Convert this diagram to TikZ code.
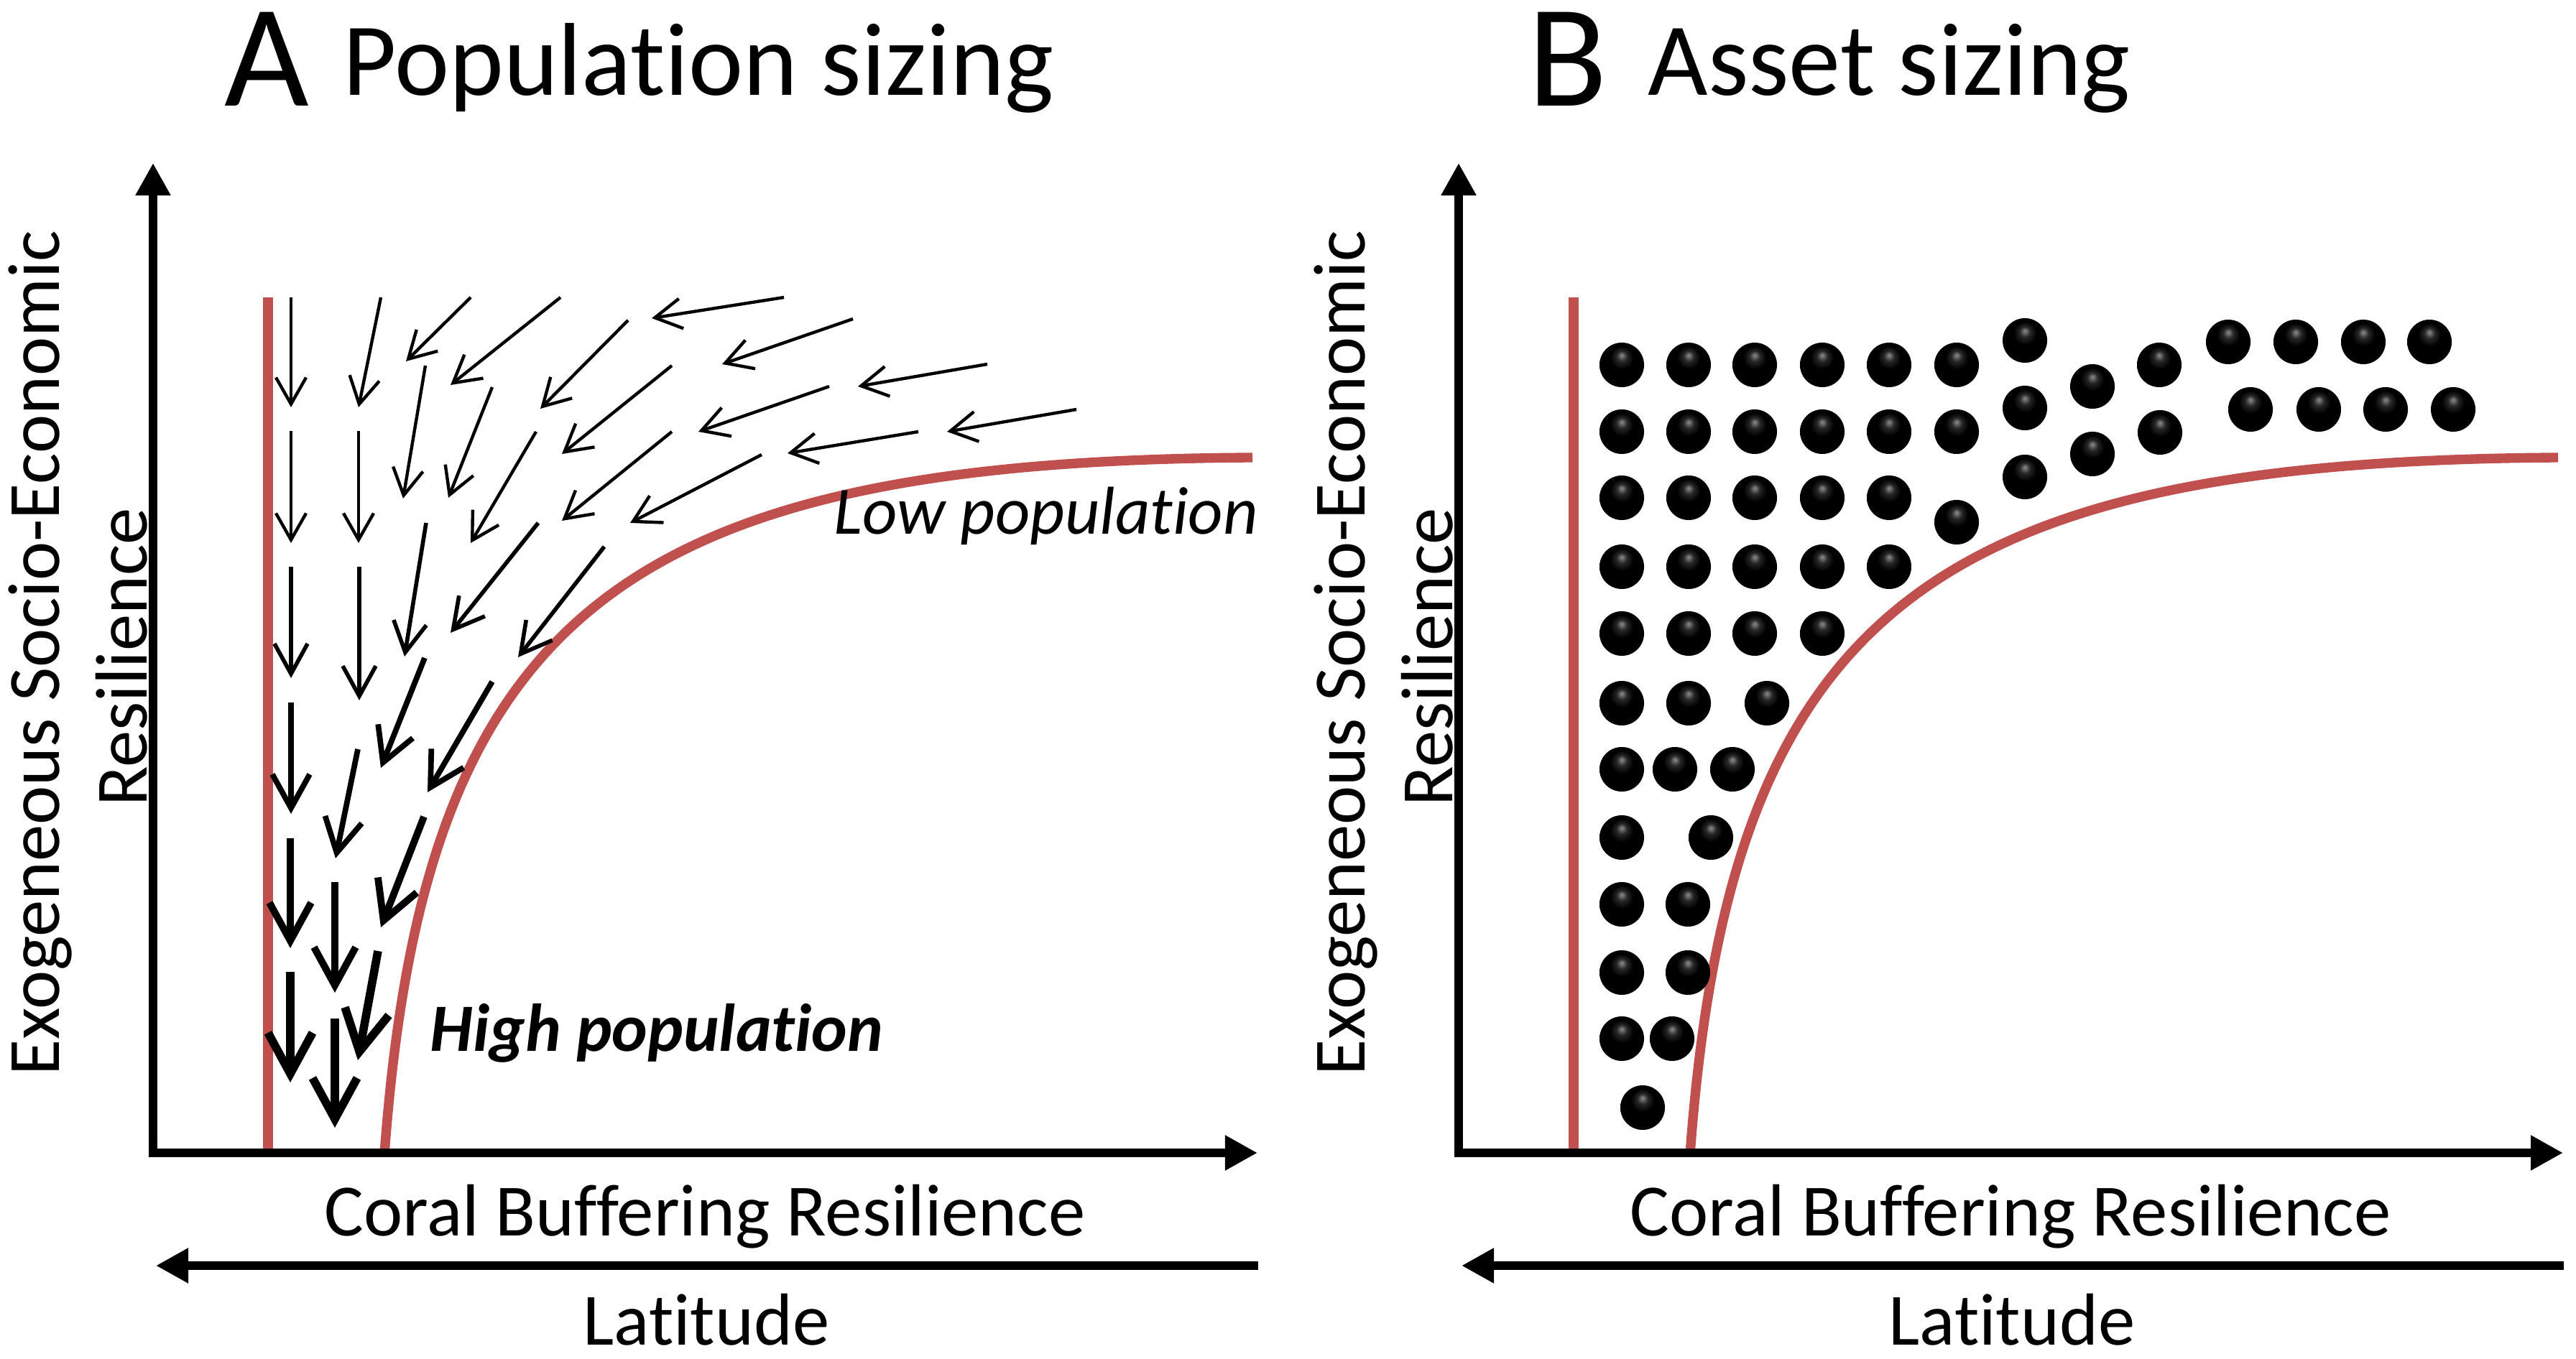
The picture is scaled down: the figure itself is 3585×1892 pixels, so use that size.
\documentclass[tikz,border=0pt]{standalone}
\usepackage{fontspec}
\setmainfont{Carlito}[Ligatures=NoCommon]
\usetikzlibrary{arrows.meta}
\definecolor{redc}{RGB}{192,80,77}
\pgfdeclareradialshading{dotball}{\pgfqpoint{0bp}{11bp}}{color(0bp)=(black!45); color(6bp)=(black!85); color(13bp)=(black); color(50bp)=(black)}
\tikzset{
  axisline/.style={line width=3.2pt, -{Triangle[length=0.45cm,width=0.46cm]}},
  redline/.style={line width=3.8pt, draw=redc},
  ara/.style={line width=1.25pt, -{Straight Barb[length=0.37cm,width=0.42cm]}},
  arb/.style={line width=1.6pt, -{Straight Barb[length=0.42cm,width=0.46cm]}},
  arc/.style={line width=2.2pt, -{Straight Barb[length=0.47cm,width=0.52cm]}},
  ard/.style={line width=2.8pt, -{Straight Barb[length=0.53cm,width=0.58cm]}},
  are/.style={line width=3.3pt, -{Straight Barb[length=0.57cm,width=0.62cm]}},
  lab/.style={inner sep=0pt, font=\fontsize{29.2}{32}\selectfont},
  bigletter/.style={inner sep=0pt, anchor=base west, font=\fontsize{57.8}{60}\selectfont},
  bigtitle/.style={inner sep=0pt, anchor=base west, font=\fontsize{41}{44}\selectfont},
  note/.style={inner sep=0pt, anchor=base west},
  ballshade/.style={shading=dotball}
}
\begin{document}
\begin{tikzpicture}[x=0.01cm,y=-0.01cm]
\useasboundingbox (0,0) rectangle (3585,1892);
% ---------- titles
\node[bigletter] (tA) at (312,148) {A};
\node[bigtitle] (tAp) at (477,133) {Population sizing};
\node[bigletter] (tB) at (2126,148) {B};
\node[bigtitle] (tBp) at (2293,133) {Asset sizing};
% ---------- panel frames (A and B)
\foreach \dx/\nm in {0/A,1817/B}{
  \begin{scope}[xshift=\dx*0.01cm]
    \draw[redline] (373,414) -- (373,1605);
    \draw[redline] (535,1607) .. controls (590,860) and (860,642) .. (1743,637);
    \draw[axisline] (213,1611) -- (213,227);
    \draw[axisline] (207,1605) -- (1750,1605);
    \draw[axisline] (1751,1762) -- (217,1762);
    \node[lab, anchor=base] (xl\nm) at (981,1720) {Coral Buffering Resilience};
    \node[lab, anchor=base] (lat\nm) at (983,1872) {Latitude};
    \node[lab, anchor=base, rotate=90] (ya\nm) at (82,909) {Exogeneous Socio-Economic};
    \node[lab, anchor=base, rotate=90] (yb\nm) at (204,915) {Resilience};
  \end{scope}
}
% ---------- panel A arrows
\draw[ara] (405,414) -- (405,567);
\draw[ara] (405,600) -- (405,756);
\draw[arb] (405,789) -- (405,944);
\draw[arc] (405,978) -- (405,1133);
\draw[ard] (404,1167) -- (404,1320);
\draw[are] (404,1353) -- (404,1507);
\draw[ara] (530,414) -- (499,567);
\draw[ara] (499,600) -- (499,756);
\draw[arb] (500,789) -- (500,975);
\draw[arc] (498,1043) -- (467,1195);
\draw[ard] (466,1228) -- (466,1382);
\draw[are] (466,1418) -- (466,1570);
\draw[ara] (655,414) -- (565,503);
\draw[ara] (592,509) -- (561,694);
\draw[arb] (593,728) -- (563,914);
\draw[arc] (591,916) -- (530,1069);
\draw[ard] (590,1137) -- (530,1291);
\draw[are] (526,1324) -- (498,1476);
\draw[ara] (780,414) -- (627,536);
\draw[ara] (685,539) -- (624,693);
\draw[ara] (746,601) -- (655,756);
\draw[arb] (749,728) -- (627,881);
\draw[arc] (685,949) -- (595,1103);
\draw[ara] (874,446) -- (752,569);
\draw[ara] (935,509) -- (782,632);
\draw[ara] (935,601) -- (782,725);
\draw[arb] (841,761) -- (721,915);
\draw[ara] (1091,414) -- (907,443);
\draw[ara] (1187,444) -- (1005,507);
\draw[ara] (1154,538) -- (972,601);
\draw[ara] (1060,633) -- (877,728);
\draw[ara] (1374,507) -- (1194,538);
\draw[ara] (1278,601) -- (1096,631);
\draw[ara] (1498,570) -- (1318,601);
\node[note, font=\fontsize{26.8}{29}\selectfont\itshape] (lowp) at (1160,744) {Low population};
\node[note, font=\fontsize{26.8}{29}\selectfont\bfseries\itshape] (highp) at (598,1463) {High population};
% ---------- panel B dots
\foreach \px/\py in {
  2257/508,2350/508,2442/508,2536/508,2629/508,2723/508,
  2257/601,2350/601,2442/601,2536/601,2629/601,2723/601,
  2257/693,2350/693,2442/693,2536/693,2629/693,2723/727,
  2257/789,2350/789,2442/789,2536/789,2629/789,
  2257/882,2350/882,2442/882,2536/882,
  2257/979,2350/979,2459/979,
  2257/1071,2331/1071,2411/1071,
  2257/1166,2381/1166,
  2257/1259,2349/1259,
  2257/1354,2349/1354,
  2257/1446,2327/1446,
  2286/1542,
  2818/474,2818/568,2818/664,
  2912/538,2912/632,
  3005/508,3006/602,
  3101/476,3195/476,3289/476,3381/476,
  3132/570,3227/570,3320/570,3414/570}{
  \shade[ballshade] (\px,\py) circle[radius=0.31cm];
}
\end{tikzpicture}
\end{document}
